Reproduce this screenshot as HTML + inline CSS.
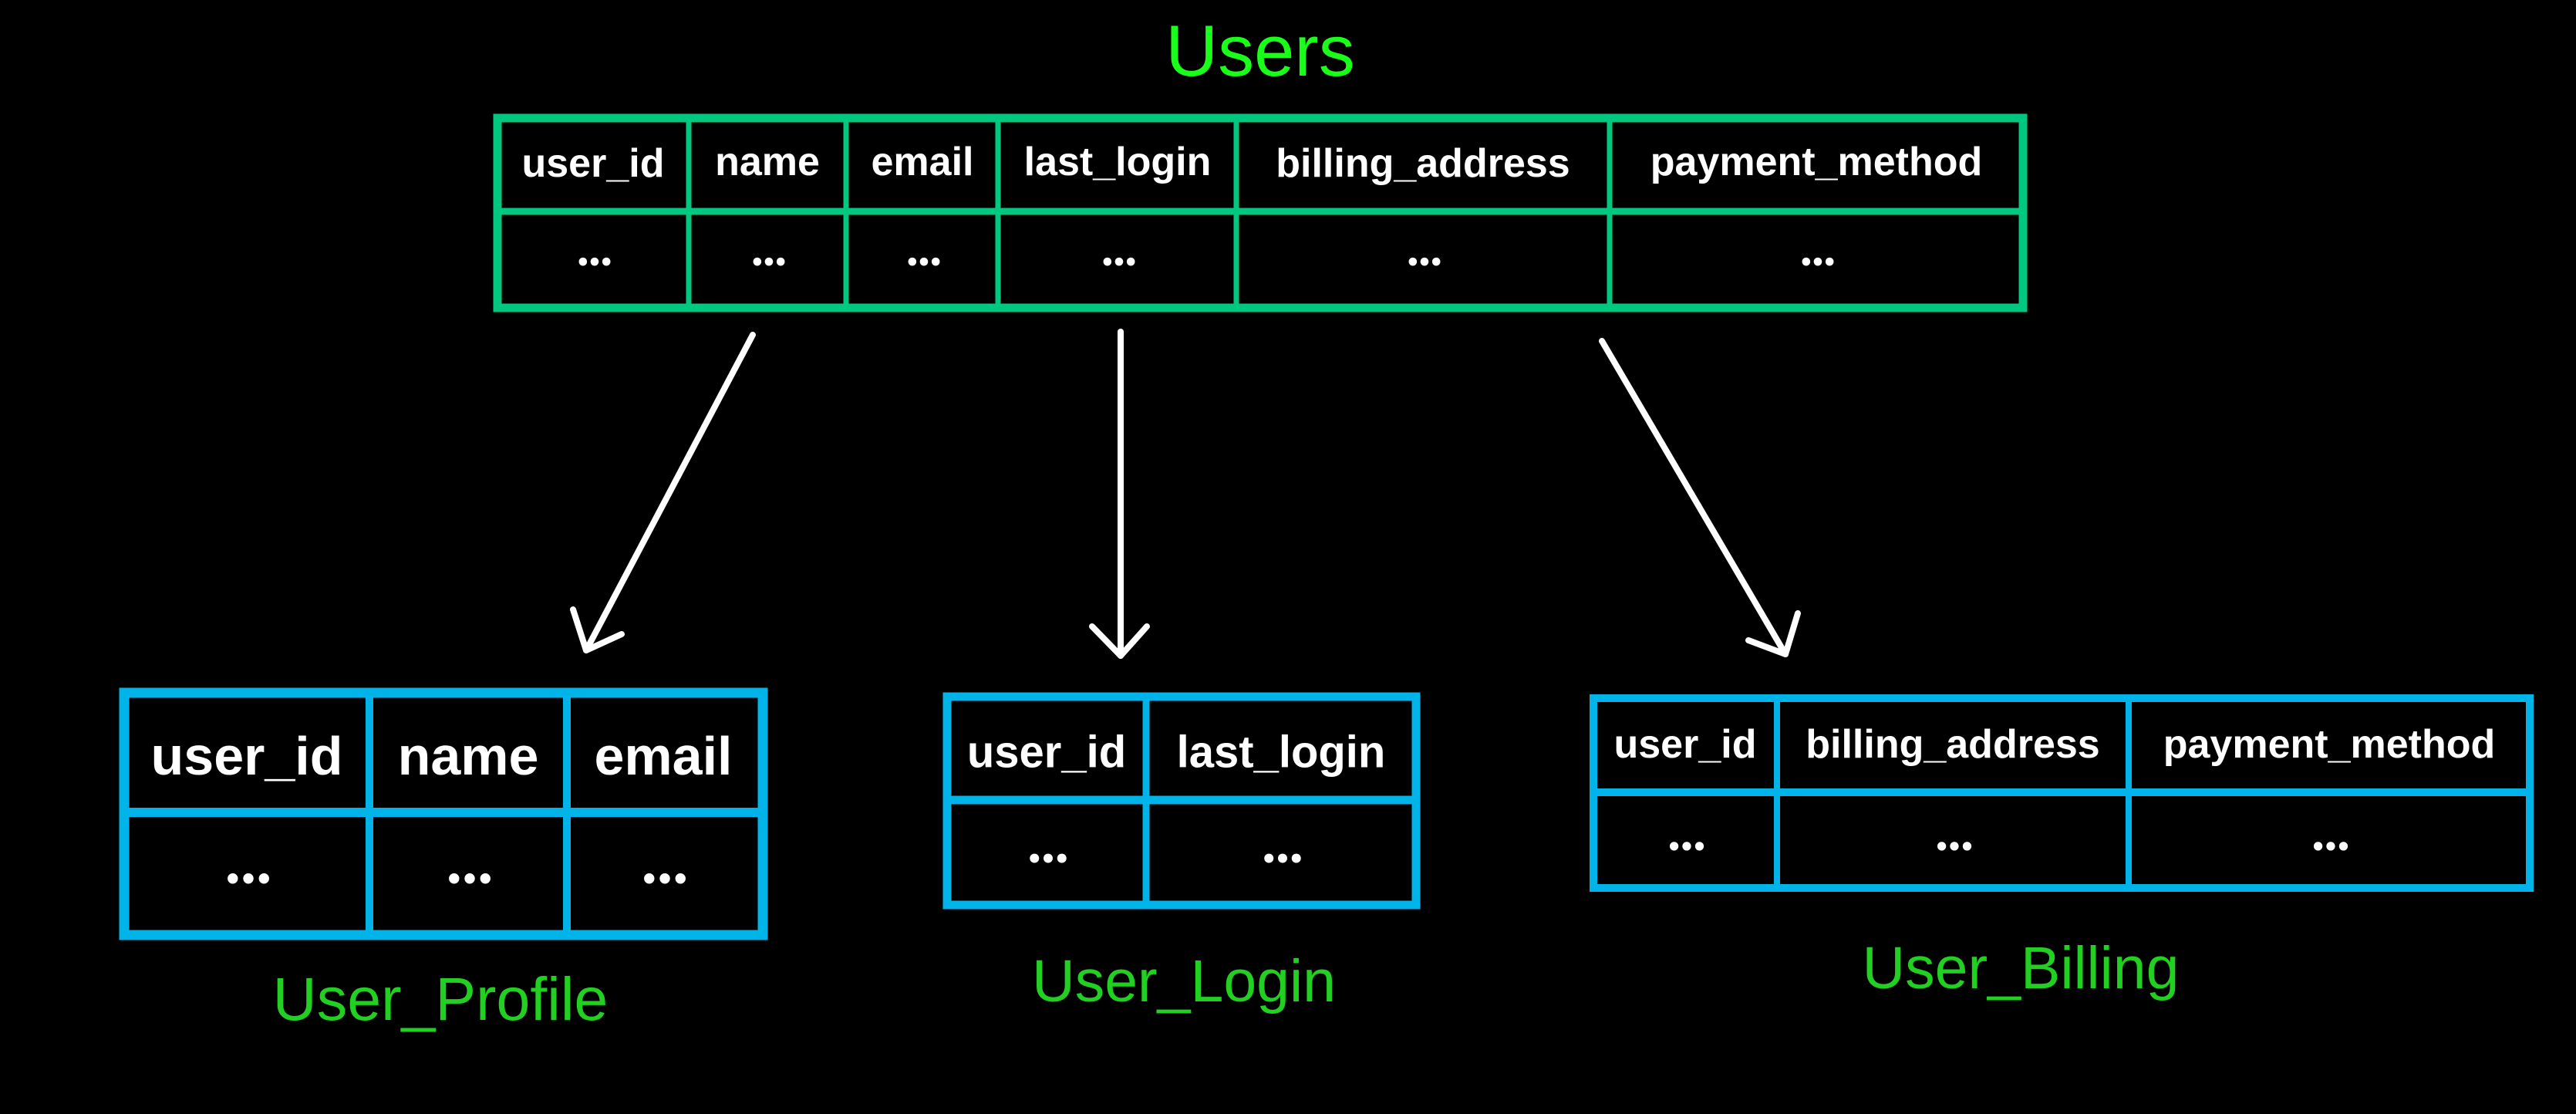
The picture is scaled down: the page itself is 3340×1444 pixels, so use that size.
<!DOCTYPE html>
<html><head><meta charset="utf-8"><style>
html,body{margin:0;padding:0;background:#000;}
svg{display:block;}
.h{font-family:"Liberation Sans",sans-serif;font-weight:bold;fill:#fff;text-anchor:middle;dominant-baseline:central;}
.d{font-family:"DejaVu Sans",sans-serif;font-weight:bold;fill:#fff;text-anchor:middle;dominant-baseline:central;letter-spacing:-4px;}
.l{font-family:"Liberation Sans",sans-serif;fill:#22d022;text-anchor:middle;}
</style></head><body>
<svg width="3340" height="1444" viewBox="0 0 3340 1444" xmlns="http://www.w3.org/2000/svg">
<rect width="3340" height="1444" fill="#000"/>
<text x="1634" y="98" class="l" font-size="94" style="fill:#1aff1a">Users</text>

<!-- Users table -->
<g stroke="#00c880" fill="none">
<rect x="645" y="153" width="1978" height="246" stroke-width="11"/>
<line x1="645" y1="274" x2="2623" y2="274" stroke-width="9"/>
<g stroke-width="7">
<line x1="893" y1="153" x2="893" y2="399"/><line x1="1097" y1="153" x2="1097" y2="399"/>
<line x1="1294" y1="153" x2="1294" y2="399"/><line x1="1603" y1="153" x2="1603" y2="399"/>
<line x1="2087" y1="153" x2="2087" y2="399"/></g></g>
<g font-size="52">
<text x="769" y="212" class="h">user_id</text><text x="995" y="210" class="h">name</text>
<text x="1196" y="210" class="h">email</text><text x="1449" y="210" class="h">last_login</text>
<text x="1845" y="212" class="h">billing_address</text><text x="2355" y="210" class="h">payment_method</text>
</g>
<g font-size="30">
<text x="769" y="341" class="d">•••</text><text x="995" y="341" class="d">•••</text>
<text x="1196" y="341" class="d">•••</text><text x="1449" y="341" class="d">•••</text>
<text x="1845" y="341" class="d">•••</text><text x="2355" y="341" class="d">•••</text>
</g>

<!-- arrows -->
<g stroke="#fff" stroke-width="8" fill="none" stroke-linecap="round" stroke-linejoin="round">
<line x1="976" y1="434" x2="760" y2="843"/><polyline points="743,790 760,843 806,822"/>
<line x1="1453" y1="430" x2="1453" y2="850"/><polyline points="1416,812 1453,850 1487,812"/>
<line x1="2077" y1="442" x2="2315" y2="848"/><polyline points="2331,795 2315,848 2267,830"/>
</g>

<!-- User_Profile -->
<g stroke="#00b4ea" fill="none">
<rect x="161" y="898" width="828" height="314" stroke-width="13"/>
<line x1="161" y1="1053" x2="989" y2="1053" stroke-width="12"/>
<line x1="479" y1="898" x2="479" y2="1212" stroke-width="10"/>
<line x1="735" y1="898" x2="735" y2="1212" stroke-width="10"/>
</g>
<g font-size="70">
<text x="320" y="980" class="h">user_id</text><text x="607" y="980" class="h">name</text><text x="860" y="980" class="h">email</text>
</g>
<g font-size="38">
<text x="320" y="1140" class="d">•••</text><text x="607" y="1140" class="d">•••</text><text x="860" y="1140" class="d">•••</text>
</g>
<text x="571" y="1322" class="l" font-size="79">User_Profile</text>

<!-- User_Login -->
<g stroke="#00b4ea" fill="none">
<rect x="1228" y="903" width="608" height="270" stroke-width="11"/>
<line x1="1228" y1="1037" x2="1836" y2="1037" stroke-width="11"/>
<line x1="1486" y1="903" x2="1486" y2="1173" stroke-width="9"/>
</g>
<g font-size="58">
<text x="1357" y="975" class="h">user_id</text><text x="1661" y="975" class="h">last_login</text>
</g>
<g font-size="34">
<text x="1357" y="1114" class="d">•••</text><text x="1661" y="1114" class="d">•••</text>
</g>
<text x="1535" y="1298" class="l" font-size="77">User_Login</text>

<!-- User_Billing -->
<g stroke="#00b4ea" fill="none">
<rect x="2066" y="905" width="1214" height="246" stroke-width="10"/>
<line x1="2066" y1="1027" x2="3280" y2="1027" stroke-width="10"/>
<line x1="2304" y1="905" x2="2304" y2="1151" stroke-width="8"/>
<line x1="2760" y1="905" x2="2760" y2="1151" stroke-width="8"/>
</g>
<g font-size="52">
<text x="2185" y="965" class="h">user_id</text><text x="2532" y="965" class="h">billing_address</text><text x="3020" y="965" class="h">payment_method</text>
</g>
<g font-size="32">
<text x="2185" y="1098" class="d">•••</text><text x="2532" y="1098" class="d">•••</text><text x="3020" y="1098" class="d">•••</text>
</g>
<text x="2620" y="1281" class="l" font-size="77">User_Billing</text>
</svg>
</body></html>
